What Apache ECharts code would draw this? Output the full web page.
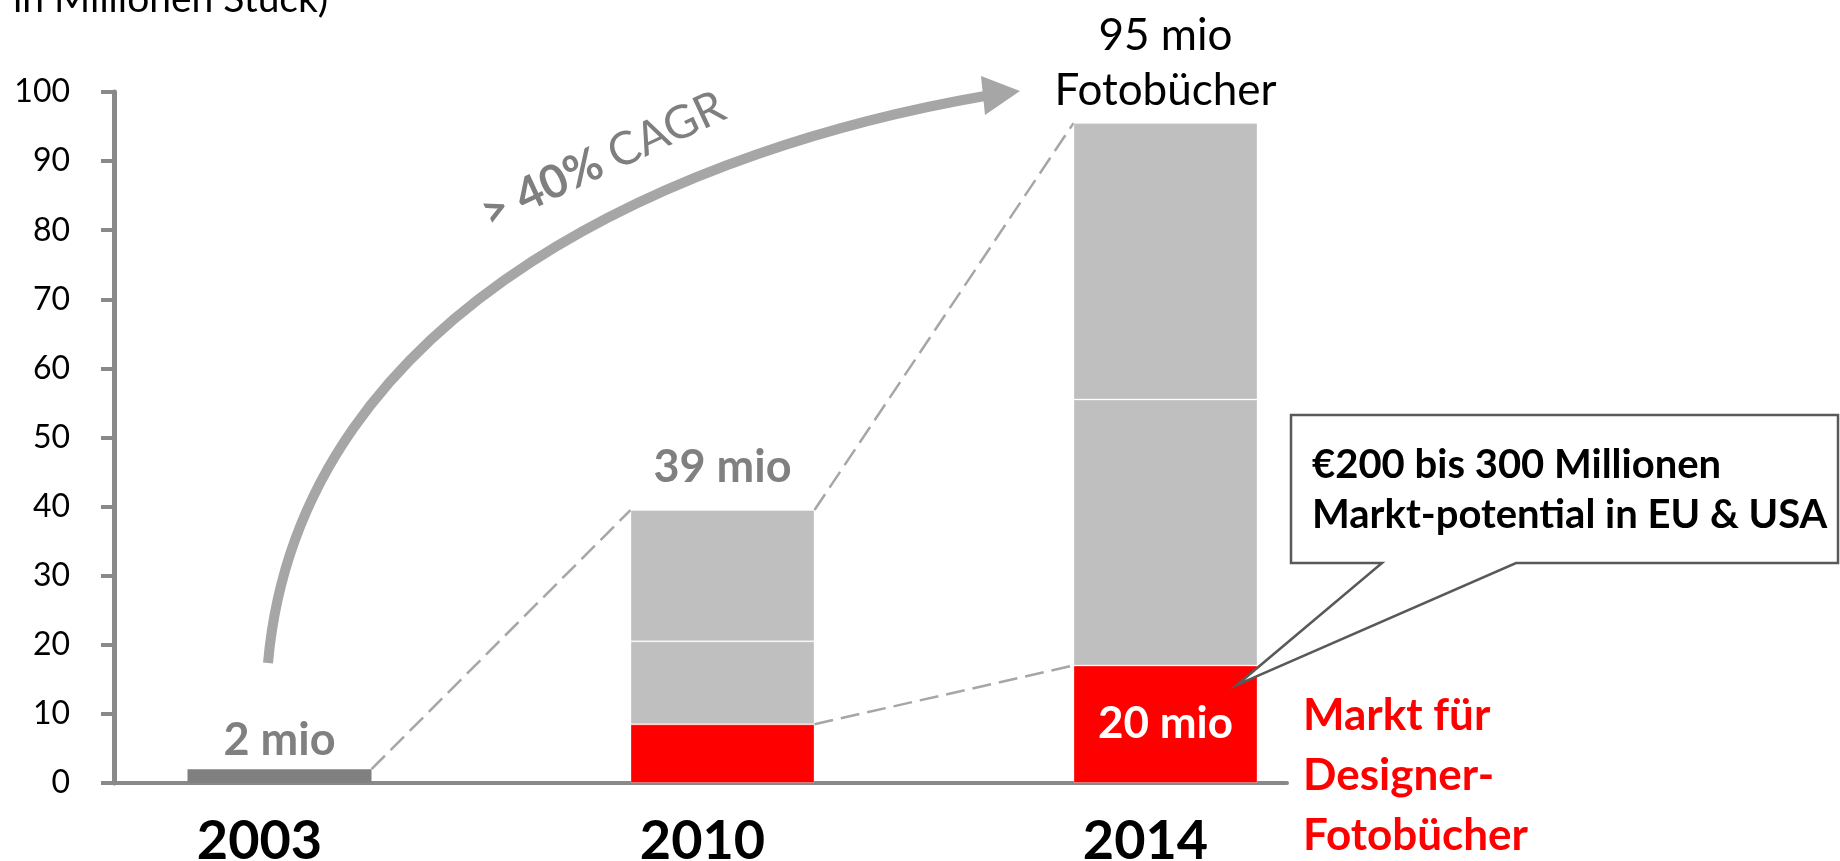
<!DOCTYPE html>
<html>
<head>
<meta charset="utf-8">
<script src="https://cdn.jsdelivr.net/npm/echarts@6/dist/echarts.min.js"></script>
<style>
  html, body { margin: 0; padding: 0; background: #fff; }
  #chart { width: 1840px; height: 861px; }
</style>
</head>
<body>
<div id="chart"></div>
<script>
// Daten (Millionen Stück)
const years = ['2003', '2010', '2014']
const baseValues = [2, '-', '-']          // 2003, dunkelgrau
const designerValues = ['-', 8.5, 17]     // Designer-Fotobücher (rot)
const midValues = ['-', 12, 38.5]         // grau, unterer Teil
const topValues = ['-', 19, 40]           // grau, oberer Teil
const totalLabels = ['2 mio', '39 mio', '95 mio\nFotobücher']
const designerLabels = ['', '', '20 mio']
const yMin = 0
const yMax = 100
const yStep = 10

const FONT = 'Lato'
const GREY_AXIS = '#898989'
const GREY_BAR = '#bfbfbf'
const GREY_DARK = '#808080'
const RED = '#ff0000'
const BAR_W = 184

const chart = echarts.init(document.getElementById('chart'))

const num = v => (typeof v === 'number' ? v : 0)
const totals = years.map((_, i) => num(baseValues[i]) + num(designerValues[i]) + num(midValues[i]) + num(topValues[i]))

const barItem = { borderColor: 'rgba(255,255,255,0.3)', borderWidth: 1 }

const option = {
  animation: false,
  textStyle: { fontFamily: FONT },
  grid: [
    // sichtbare Achsen
    { left: 114, top: 92, right: 553, bottom: 78, containLabel: false, outerBoundsMode: 'none' },
    // Balken
    { left: 58, top: 92, right: 453, bottom: 78, containLabel: false, outerBoundsMode: 'none' }
  ],
  xAxis: [
    {
      type: 'value', gridIndex: 0, min: 0, max: 1,
      axisLine: { show: true, lineStyle: { color: GREY_AXIS, width: 4 } },
      axisTick: { show: false }, axisLabel: { show: false }, splitLine: { show: false }
    },
    {
      type: 'category', gridIndex: 1, data: years,
      axisLine: { show: false }, axisTick: { show: false },
      axisLabel: { fontSize: 54, fontWeight: 'bold', color: '#000', margin: 32, padding: [0, 40, 0, 0] }
    }
  ],
  yAxis: [
    {
      type: 'value', gridIndex: 0, min: yMin, max: yMax, interval: yStep,
      axisLine: { show: true, lineStyle: { color: GREY_AXIS, width: 5 } },
      axisTick: { show: true, length: 13, lineStyle: { color: GREY_AXIS, width: 4 } },
      axisLabel: { fontSize: 32, color: '#000', margin: 44 },
      splitLine: { show: false }
    },
    { type: 'value', gridIndex: 1, min: yMin, max: yMax, show: false }
  ],
  series: [
    {
      name: 'base', type: 'bar', stack: 'total', xAxisIndex: 1, yAxisIndex: 1,
      barWidth: BAR_W, data: baseValues,
      itemStyle: { color: GREY_DARK },
      label: {
        show: true, position: 'top', distance: 6,
        formatter: p => totalLabels[p.dataIndex],
        fontSize: 45, fontWeight: 'bold', color: GREY_DARK
      },
      emphasis: { disabled: true }
    },
    {
      name: 'designer', type: 'bar', stack: 'total', xAxisIndex: 1, yAxisIndex: 1,
      barWidth: BAR_W, data: designerValues,
      itemStyle: Object.assign({ color: RED }, barItem),
      label: {
        show: true, position: 'inside',
        formatter: p => designerLabels[p.dataIndex],
        fontSize: 44, fontWeight: 'bold', color: '#fff'
      },
      emphasis: { disabled: true }
    },
    {
      name: 'mid', type: 'bar', stack: 'total', xAxisIndex: 1, yAxisIndex: 1,
      barWidth: BAR_W, data: midValues,
      itemStyle: Object.assign({ color: GREY_BAR }, barItem),
      emphasis: { disabled: true }
    },
    {
      name: 'top', type: 'bar', stack: 'total', xAxisIndex: 1, yAxisIndex: 1,
      barWidth: BAR_W,
      data: topValues.map((v, i) => {
        if (v === '-') return v
        const lbl = i === 2
          ? { show: true, position: 'top', distance: 5, fontSize: 44, fontWeight: 'normal', color: '#000', lineHeight: 55 }
          : { show: true, position: 'top', distance: 20, fontSize: 45, fontWeight: 'bold', color: GREY_DARK }
        return { value: v, label: Object.assign(lbl, { formatter: totalLabels[i] }) }
      }),
      itemStyle: Object.assign({ color: GREY_BAR }, barItem),
      emphasis: { disabled: true }
    }
  ]
}

chart.setOption(option)

// Verbindungslinien (gestrichelt) zwischen den Balkenkanten
const px = (i, v) => chart.convertToPixel({ xAxisIndex: 1, yAxisIndex: 1 }, [years[i], v])
const half = BAR_W / 2
const dashed = (a, b) => ({
  type: 'line', silent: true, z: 1,
  shape: { x1: a[0] + half, y1: a[1], x2: b[0] - half, y2: b[1] },
  style: { stroke: '#a6a6a6', lineWidth: 2.5, lineDash: [19, 8] }
})
const reds = designerValues.map(num)

const graphics = [
  dashed(px(0, totals[0]), px(1, totals[1])),
  dashed(px(1, totals[1]), px(2, totals[2])),
  dashed(px(1, reds[1]), px(2, reds[2])),
  // Titel (oben abgeschnitten)
  {
    type: 'text', x: 13, y: -1, silent: true, z: 50,
    style: { text: 'in Millionen Stück)', font: '39px ' + FONT, fill: '#000', align: 'left', verticalAlign: 'middle' }
  },
  // Wachstumspfeil
  {
    type: 'bezierCurve', silent: true, z: 50,
    shape: { x1: 268, y1: 663, cpx1: 300, cpy1: 300, cpx2: 700, cpy2: 145, x2: 985, y2: 96 },
    style: { stroke: '#a6a6a6', lineWidth: 10, fill: null }
  },
  {
    type: 'polygon', silent: true, z: 50,
    shape: { points: [[1020, 91], [981, 76], [985, 115]] },
    style: { fill: '#a6a6a6' }
  },
  {
    type: 'text', x: 603, y: 160, rotation: 25 * Math.PI / 180, silent: true, z: 50,
    style: {
      text: '{b|> 40% }{n|CAGR}', align: 'center', verticalAlign: 'middle',
      rich: {
        b: { fontSize: 46, fontWeight: 'bold', fontFamily: FONT, fill: '#7f7f7f', color: '#7f7f7f' },
        n: { fontSize: 46, fontFamily: FONT, fill: '#7f7f7f', color: '#7f7f7f' }
      }
    }
  },
  // Sprechblase
  {
    type: 'polygon', silent: true, z: 100,
    shape: { points: [[1291, 415], [1838, 415], [1838, 563], [1516, 563], [1237, 685], [1382, 563], [1291, 563]] },
    style: { fill: '#fff', stroke: '#595959', lineWidth: 2.5 }
  },
  {
    type: 'text', x: 1312, y: 490, silent: true, z: 101,
    style: {
      text: '€200 bis 300 Millionen\nMarkt-potential in EU & USA',
      font: 'bold 40px ' + FONT, lineHeight: 50, fill: '#000', align: 'left', verticalAlign: 'middle'
    }
  },
  // Marktsegment
  {
    type: 'text', x: 1303, y: 776, silent: true, z: 50,
    style: {
      text: 'Markt für\nDesigner-\nFotobücher',
      font: 'bold 44px ' + FONT, lineHeight: 60, fill: RED, align: 'left', verticalAlign: 'middle'
    }
  }
]

chart.setOption({ graphic: graphics })

window.addEventListener('resize', () => chart.resize())
</script>
</body>
</html>
